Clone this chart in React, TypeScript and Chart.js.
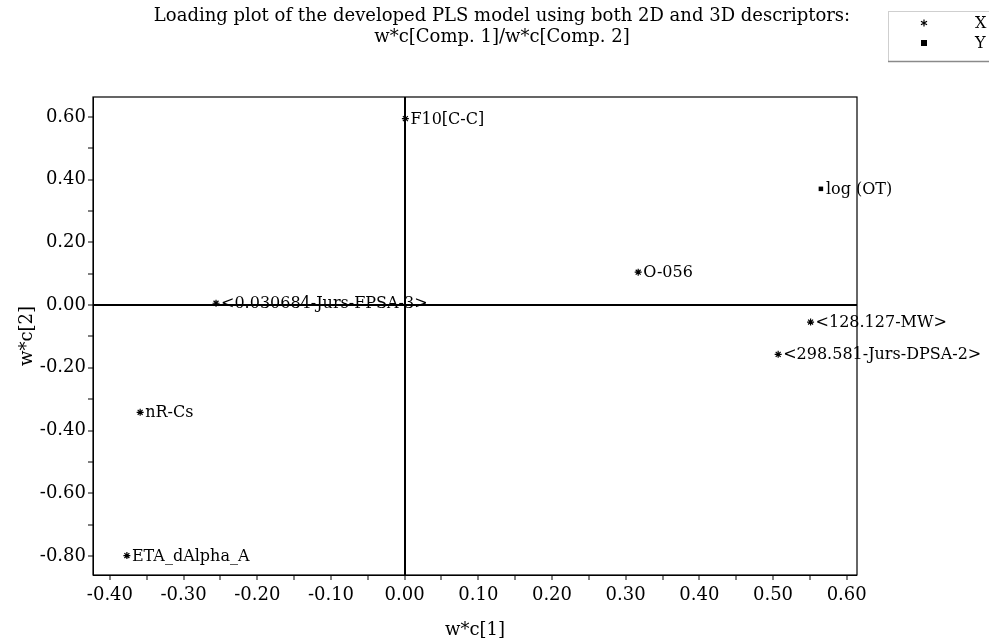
import { useEffect, useRef } from 'react';
import { Chart, registerables } from 'chart.js';

Chart.register(...registerables);

const TITLE_LINES = [
  'Loading plot of the developed PLS model using both 2D and 3D descriptors:',
  'w*c[Comp. 1]/w*c[Comp. 2]',
];
const X_AXIS_TITLE = 'w*c[1]';
const Y_AXIS_TITLE = 'w*c[2]';
const LEGEND_NAMES = ['X', 'Y'];

// X variables (asterisks)
const X_VAR_LABELS = [
  'F10[C-C]',
  'O-056',
  '<128.127-MW>',
  '<298.581-Jurs-DPSA-2>',
  '<0.030684-Jurs-FPSA-3>',
  'nR-Cs',
  'ETA_dAlpha_A',
];
const X_VAR_W1 = [0.001, 0.317, 0.551, 0.507, -0.256, -0.359, -0.377];
const X_VAR_W2 = [0.595, 0.105, -0.054, -0.157, 0.006, -0.342, -0.799];

// Y variables (squares)
const Y_VAR_LABELS = ['log (OT)'];
const Y_VAR_W1 = [0.565];
const Y_VAR_W2 = [0.371];

const X_TICKS = [
  -0.4, -0.35, -0.3, -0.25, -0.2, -0.15, -0.1, -0.05, 0, 0.05, 0.1, 0.15, 0.2,
  0.25, 0.3, 0.35, 0.4, 0.45, 0.5, 0.55, 0.6,
];
const Y_TICKS = [
  -0.8, -0.7, -0.6, -0.5, -0.4, -0.3, -0.2, -0.1, 0, 0.1, 0.2, 0.3, 0.4, 0.5, 0.6,
];
const X_MIN = -0.423;
const X_MAX = 0.614;
const Y_MIN = -0.861;
const Y_MAX = 0.664;

const FONT_FAMILY = '"DejaVu Serif", "Liberation Serif", serif';

const pointLabelPlugin = {
  id: 'pointLabelPlugin',
  afterDatasetsDraw(chart: any) {
    const ctx = chart.ctx;
    ctx.save();
    ctx.font = `16px ${FONT_FAMILY}`;
    ctx.fillStyle = '#000';
    ctx.textBaseline = 'middle';
    ctx.textAlign = 'left';
    chart.data.datasets.forEach((ds: any, di: number) => {
      const meta = chart.getDatasetMeta(di);
      meta.data.forEach((pt: any, i: number) => {
        ctx.fillText(ds.pointNames[i], pt.x + 5, pt.y + 1);
      });
    });
    ctx.restore();
  },
};

const framePlugin = {
  id: 'framePlugin',
  beforeDatasetsDraw(chart: any) {
    const { ctx, chartArea } = chart;
    ctx.save();
    ctx.strokeStyle = '#000';
    ctx.lineWidth = 1.2;
    ctx.strokeRect(
      chartArea.left,
      chartArea.top,
      chartArea.right - chartArea.left,
      chartArea.bottom - chartArea.top
    );
    ctx.restore();
  },
};

const legendPlugin = {
  id: 'legendBoxPlugin',
  afterDraw(chart: any) {
    const ctx = chart.ctx;
    ctx.save();
    ctx.strokeStyle = '#cfcfcf';
    ctx.lineWidth = 1;
    ctx.strokeRect(888.5, 11.5, 120, 50);
    ctx.strokeStyle = '#8a8a8a';
    ctx.lineWidth = 1.5;
    ctx.beginPath();
    ctx.moveTo(888, 61.5);
    ctx.lineTo(989, 61.5);
    ctx.stroke();
    // star marker
    const sx = 924;
    const sy = 23;
    ctx.strokeStyle = '#000';
    ctx.lineWidth = 1.2;
    ctx.beginPath();
    for (let k = 0; k < 3; k++) {
      const a = (Math.PI / 3) * k + Math.PI / 2;
      ctx.moveTo(sx + Math.cos(a) * 3.5, sy + Math.sin(a) * 3.5);
      ctx.lineTo(sx - Math.cos(a) * 3.5, sy - Math.sin(a) * 3.5);
    }
    ctx.stroke();
    // square marker
    ctx.fillStyle = '#000';
    ctx.fillRect(921, 40, 6, 6);
    ctx.font = `16px ${FONT_FAMILY}`;
    ctx.textBaseline = 'middle';
    ctx.textAlign = 'left';
    ctx.fillText(LEGEND_NAMES[0], 975, 24);
    ctx.fillText(LEGEND_NAMES[1], 975, 44);
    ctx.restore();
  },
};

const isZero = (v: number) => Math.abs(v) < 1e-9;

export default function App() {
  const canvasRef = useRef<HTMLCanvasElement | null>(null);

  useEffect(() => {
    if (!canvasRef.current) return;
    const chart = new Chart(canvasRef.current, {
      type: 'scatter',
      data: {
        datasets: [
          {
            label: LEGEND_NAMES[0],
            data: X_VAR_W1.map((v, i) => ({ x: v, y: X_VAR_W2[i] })),
            pointNames: X_VAR_LABELS,
            pointStyle: 'star',
            pointRadius: 3.5,
            pointBorderWidth: 1.2,
            borderColor: '#000',
            backgroundColor: '#000',
          } as any,
          {
            label: LEGEND_NAMES[1],
            data: Y_VAR_W1.map((v, i) => ({ x: v, y: Y_VAR_W2[i] })),
            pointNames: Y_VAR_LABELS,
            pointStyle: 'rect',
            pointRadius: 3.2,
            pointBorderWidth: 0,
            borderColor: '#000',
            backgroundColor: '#000',
          } as any,
        ],
      },
      options: {
        responsive: false,
        animation: false,
        events: [],
        layout: { padding: { left: 15, right: 0, top: 0, bottom: 0 } },
        plugins: {
          legend: { display: false },
          tooltip: { enabled: false },
          title: {
            display: true,
            text: TITLE_LINES,
            color: '#000',
            font: { family: FONT_FAMILY, size: 18, weight: 'normal', lineHeight: 1.1667 },
            padding: { top: 6, bottom: 49 },
          },
        },
        scales: {
          x: {
            type: 'linear',
            position: 'bottom',
            min: X_MIN,
            max: X_MAX,
            afterBuildTicks: (axis: any) => {
              axis.ticks = X_TICKS.map((v) => ({ value: v }));
            },
            afterFit: (axis: any) => {
              axis.height = 68;
            },
            ticks: {
              autoSkip: false,
              maxRotation: 0,
              color: '#000',
              padding: 5,
              font: { family: FONT_FAMILY, size: 18 },
              callback: (v: any, i: number) => (i % 2 === 0 ? Number(v).toFixed(2) : ''),
            },
            grid: {
              drawOnChartArea: true,
              drawTicks: true,
              tickLength: 5,
              tickWidth: 1,
              tickColor: '#000',
              color: (c: any) => (c.tick && isZero(c.tick.value) ? '#000' : 'rgba(0,0,0,0)'),
              lineWidth: (c: any) => (c.tick && isZero(c.tick.value) ? 2 : 0),
            },
            border: { display: true, color: '#000', width: 1 },
            title: {
              display: true,
              text: X_AXIS_TITLE,
              color: '#000',
              font: { family: FONT_FAMILY, size: 18 },
              padding: { top: 0, bottom: 2 },
            },
          },
          y: {
            type: 'linear',
            position: 'left',
            min: Y_MIN,
            max: Y_MAX,
            afterBuildTicks: (axis: any) => {
              axis.ticks = Y_TICKS.map((v) => ({ value: v }));
            },
            afterFit: (axis: any) => {
              axis.width = 78;
            },
            ticks: {
              autoSkip: false,
              color: '#000',
              padding: 2,
              font: { family: FONT_FAMILY, size: 18 },
              callback: (v: any, i: number) => (i % 2 === 0 ? Number(v).toFixed(2) : ''),
            },
            grid: {
              drawOnChartArea: true,
              drawTicks: true,
              tickLength: 5,
              tickWidth: 1,
              tickColor: '#000',
              color: (c: any) => (c.tick && isZero(c.tick.value) ? '#000' : 'rgba(0,0,0,0)'),
              lineWidth: (c: any) => (c.tick && isZero(c.tick.value) ? 2 : 0),
            },
            border: { display: true, color: '#000', width: 1 },
            title: {
              display: true,
              text: Y_AXIS_TITLE,
              color: '#000',
              font: { family: FONT_FAMILY, size: 18 },
              padding: { top: 2, bottom: 0 },
            },
          },
          y2: {
            type: 'linear',
            position: 'right',
            display: true,
            grid: { display: false },
            ticks: { display: false },
            border: { display: false },
            afterFit: (axis: any) => {
              axis.width = 132;
            },
          },
        },
      } as any,
      plugins: [framePlugin, pointLabelPlugin, legendPlugin],
    });
    return () => chart.destroy();
  }, []);

  return (
    <div
      style={{
        position: 'fixed',
        left: 0,
        top: 0,
        width: 989,
        height: 643,
        background: '#fff',
      }}
    >
      <canvas ref={canvasRef} width={989} height={643} style={{ display: 'block' }} />
    </div>
  );
}
